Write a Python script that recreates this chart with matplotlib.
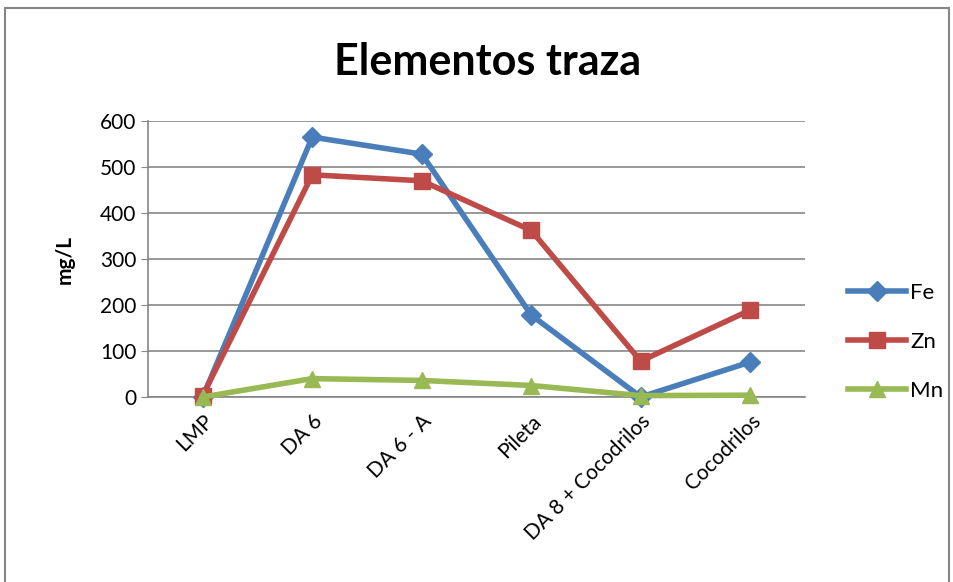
import matplotlib
matplotlib.use("Agg")
import matplotlib.pyplot as plt
from matplotlib.patches import Rectangle

categories = ["LMP", "DA 6", "DA 6 - A", "Pileta", "DA 8 + Cocodrilos", "Cocodrilos"]
fe = [0, 565, 528, 178, 0, 76]
zn = [3, 483, 470, 362, 78, 189]
mn = [0, 40, 36, 25, 3, 4]
yticks = [0, 100, 200, 300, 400, 500, 600]

plt.rcParams["font.family"] = ["Lato", "DejaVu Sans"]

fig = plt.figure(figsize=(9.54, 5.82), dpi=100)
ax = fig.add_axes([148 / 954, 1 - 397 / 582, (805 - 148) / 954, (397 - 121) / 582])

x = list(range(len(categories)))
ax.plot(x, fe, color="#4a7ebb", lw=4, marker="D", ms=10, label="Fe", zorder=3)
ax.plot(x, zn, color="#be4b48", lw=4, marker="s", ms=12, label="Zn", zorder=3)
ax.plot(x, mn, color="#98b954", lw=4, marker="^", ms=12, label="Mn", zorder=4)

ax.set_xlim(-0.5, len(categories) - 0.5)
ax.set_ylim(0, 600)
ax.set_yticks(yticks)
ax.tick_params(axis="y", labelsize=15, length=5, color="#868686")
ax.grid(axis="y", color="#868686", lw=1.2)
ax.set_axisbelow(True)
ax.set_xticks(x)
ax.set_xticklabels(categories, rotation=45, ha="right", rotation_mode="anchor", fontsize=15)
ax.tick_params(axis="x", length=0, pad=10)
for s in ["top", "right"]:
    ax.spines[s].set_visible(False)
for s in ["left", "bottom"]:
    ax.spines[s].set_color("#868686")
    ax.spines[s].set_linewidth(1.2)
ax.set_ylabel("mg/L", fontsize=15, fontweight="bold", labelpad=18)
for line in ax.lines:
    line.set_clip_on(False)

fig.text(488 / 954, 1 - 62 / 582, "Elementos traza", fontsize=31, fontweight="bold",
         ha="center", va="center")

leg = ax.legend(loc="center left", bbox_to_anchor=(1.035, 0.2), frameon=False,
                fontsize=16, handlelength=2.6, labelspacing=1.3, handletextpad=0.2)

fig.patches.append(Rectangle((5 / 954, -0.1), 1 - 10 / 954, 1 - 8 / 582 + 0.1,
                             transform=fig.transFigure, fill=False,
                             edgecolor="#868686", lw=1.5))

fig.savefig("out.png", dpi=100)
